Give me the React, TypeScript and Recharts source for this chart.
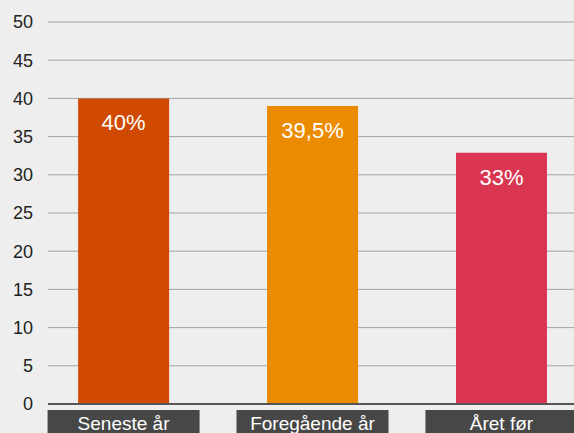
import React from 'react';
import { BarChart, Bar, XAxis, YAxis, CartesianGrid, Cell, LabelList } from 'recharts';

const categories = ['Seneste år', 'Foregående år', 'Året før'];
const barValues = [40, 39, 32.9];
const valueLabels = ['40%', '39,5%', '33%'];
const barColors = ['#d04a02', '#eb8c00', '#db3651'];
const yTicks = [0, 5, 10, 15, 20, 25, 30, 35, 40, 45, 50];

const data = categories.map((name, i) => ({
    pos: i,
    name,
    value: barValues[i],
    label: valueLabels[i],
}));

const FONT = '"Liberation Sans", Arial, Helvetica, sans-serif';

const CategoryTick = (props: any) => {
    const { x, y, payload } = props;
    const name = categories[payload.value] ?? '';
    return (
        <g>
            <rect x={x - 76} y={y + 6} width={152} height={30} fill="#474747" />
            <text x={x} y={y + 26} textAnchor="middle" fill="#ffffff" fontSize={19} fontFamily={FONT}>
                {name}
            </text>
        </g>
    );
};

const ValueLabel = (props: any) => {
    const { x, y, width, index } = props;
    return (
        <text x={x + width / 2} y={y + 32} textAnchor="middle" fill="#ffffff" fontSize={22} fontFamily={FONT}>
            {valueLabels[index]}
        </text>
    );
};

export default function App() {
    return (
        <div style={{ width: 574, height: 433, background: '#eeeeee', overflow: 'hidden' }}>
            <style>{'html,body{margin:0;padding:0;overflow:hidden;background:#eeeeee;}'}</style>
            <BarChart
                width={574}
                height={433}
                data={data}
                margin={{ top: 22, right: 0, left: 0, bottom: 0 }}
            >
                <CartesianGrid vertical={false} stroke="#a3a3a3" />
                <XAxis
                    dataKey="pos"
                    type="number"
                    domain={[-0.4, 2.384]}
                    allowDataOverflow
                    ticks={[0, 1, 2]}
                    height={29}
                    tickSize={0}
                    tickMargin={0}
                    tickLine={false}
                    axisLine={{ stroke: '#555555', strokeWidth: 2 }}
                    tick={<CategoryTick />}
                    interval={0}
                />
                <YAxis
                    width={48}
                    domain={[0, 50]}
                    ticks={yTicks}
                    interval={0}
                    axisLine={false}
                    tickLine={false}
                    tickSize={0}
                    tickMargin={15}
                    tick={{ fill: '#222222', fontSize: 18, fontFamily: FONT }}
                />
                <Bar dataKey="value" barSize={91} isAnimationActive={false}>
                    {data.map((d, i) => (
                        <Cell key={d.name} fill={barColors[i]} />
                    ))}
                    <LabelList dataKey="label" content={<ValueLabel />} />
                </Bar>
            </BarChart>
        </div>
    );
}
